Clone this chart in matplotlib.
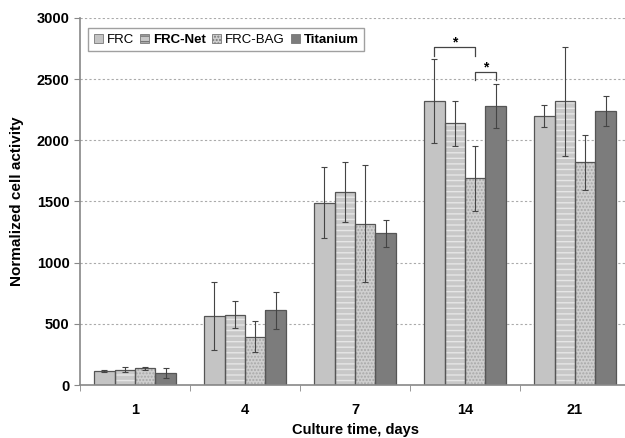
import numpy as np
import matplotlib
matplotlib.use("Agg")
import matplotlib.pyplot as plt

plt.rcParams['font.family'] = ['Liberation Sans', 'DejaVu Sans']

days = ['1', '4', '7', '14', '21']
series = ['FRC', 'FRC-Net', 'FRC-BAG', 'Titanium']

# mean values per day
frc = [115, 565, 1490, 2320, 2200]
frc_net = [125, 575, 1580, 2140, 2320]
frc_bag = [135, 395, 1320, 1690, 1820]
titanium = [100, 610, 1240, 2280, 2240]

# error bar half widths
frc_err = [5, 280, 290, 345, 90]
frc_net_err = [20, 110, 245, 185, 445]
frc_bag_err = [15, 125, 475, 265, 225]
titanium_err = [40, 150, 110, 180, 120]

values = [frc, frc_net, frc_bag, titanium]
errors = [frc_err, frc_net_err, frc_bag_err, titanium_err]

fills = ['#c4c4c4', '#c8c8c8', '#cfcfcf', '#7c7c7c']
hatches = [None, '---', '.....', None]
hatch_cols = [None, '#e6e6e6', '#a8a8a8', None]

fig = plt.figure(figsize=(6.25, 4.38), dpi=100)
# axis runs a little past the right edge of the picture, as in the original
ax = fig.add_axes([0.128, 0.121, 0.88, 0.838])

x = np.arange(len(days))
w = 0.185
for i, (vals, errs) in enumerate(zip(values, errors)):
    pos = x + (i - 1.5) * w
    ax.bar(pos, vals, w, color=fills[i], edgecolor='none', zorder=2)
    if hatches[i]:
        ax.bar(pos, vals, w, fill=False, hatch=hatches[i],
               edgecolor=hatch_cols[i], linewidth=0, zorder=2.1)
    ax.bar(pos, vals, w, fill=False, edgecolor='#555555', linewidth=0.9,
           zorder=2.2)
    ax.errorbar(pos, vals, yerr=errs, fmt='none', ecolor='#444444',
                elinewidth=0.8, capsize=2.5, capthick=0.8, zorder=3)

# significance brackets at day 14
def bracket(x0, x1, y, h=70):
    ax.plot([x0, x0, x1, x1], [y - h, y, y, y - h], color='#444444', lw=0.9,
            zorder=3)
    ax.text((x0 + x1) / 2, y - 20, '*', ha='center', va='bottom',
            fontsize=10, fontweight='bold')

bracket(x[3] - 1.5 * w, x[3] + 0.5 * w, 2760)
bracket(x[3] + 0.5 * w, x[3] + 1.5 * w, 2560)

ax.set_ylim(0, 3000)
ax.set_xlim(-0.5, 4.5)
ax.set_yticks(range(0, 3001, 500))
ax.yaxis.grid(True, linestyle=(0, (2, 2)), color='#aaaaaa', lw=0.8, zorder=0)
ax.set_axisbelow(True)

ax.set_xticks(x)
ax.set_xticklabels(days, fontweight='bold', fontsize=10.5)
ax.set_xticks(np.arange(-0.5, 4.6, 1), minor=True)
ax.tick_params(axis='x', which='major', length=0, pad=13)
ax.tick_params(axis='x', which='minor', length=4, color='#888888')
ax.tick_params(axis='y', length=4, color='#888888', labelsize=10.5)
for lab in ax.get_yticklabels():
    lab.set_fontweight('bold')

for s in ['top', 'right']:
    ax.spines[s].set_visible(False)
for s in ['left', 'bottom']:
    ax.spines[s].set_color('#888888')
    ax.spines[s].set_linewidth(1.2)

ax.set_xlabel('Culture time, days', fontweight='bold', fontsize=10.5,
              labelpad=4)
ax.set_ylabel('Normalized cell activity', fontweight='bold', fontsize=11,
              labelpad=9)

handles = []
for i in range(4):
    h = plt.Rectangle((0, 0), 1, 1, facecolor=fills[i], edgecolor='#777777',
                      hatch=hatches[i], lw=0.6)
    handles.append(h)
leg = ax.legend(handles, series, loc='upper left', ncol=4, fontsize=9.5,
                handlelength=0.7, handleheight=0.7, handletextpad=0.3,
                columnspacing=0.45, frameon=True, fancybox=False,
                edgecolor='#888888', borderpad=0.4,
                bbox_to_anchor=(0.003, 0.99))
for i, t in enumerate(leg.get_texts()):
    if series[i] in ('FRC-Net', 'Titanium'):
        t.set_fontweight('bold')

fig.savefig('out.png', dpi=100)
